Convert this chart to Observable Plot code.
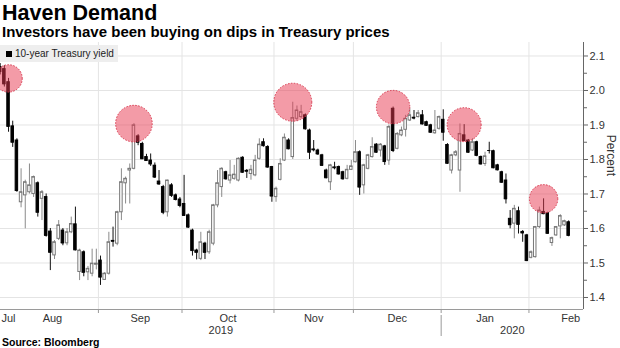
<!DOCTYPE html>
<html><head><meta charset="utf-8">
<script src="https://cdn.jsdelivr.net/npm/d3@7"></script>
<script src="https://cdn.jsdelivr.net/npm/@observablehq/plot@0.6"></script>
<style>
body{margin:0;background:#fff;font-family:"Liberation Sans",Arial,sans-serif;}
#wrap{position:relative;width:620px;height:348px;overflow:hidden;background:#fff;}
#title{position:absolute;left:2px;top:2px;font-weight:bold;font-size:21.5px;line-height:22px;height:22px;color:#000;white-space:nowrap;}
#subtitle{position:absolute;left:2px;top:24px;font-weight:bold;font-size:15px;line-height:16px;height:16px;color:#000;white-space:nowrap;}
#chart{position:absolute;left:0;top:40px;}
#legend{position:absolute;left:0;top:45px;width:118px;height:17px;background:#eeeeee;}
#legend .sw{position:absolute;left:6px;top:6px;width:6px;height:6px;background:#000;}
#legend .lb{position:absolute;left:15px;top:0;font-size:10px;line-height:17px;color:#222;white-space:nowrap;}
#source{position:absolute;left:2px;top:336px;font-weight:bold;font-size:10.5px;line-height:12px;color:#000;white-space:nowrap;}
</style></head>
<body><div id="wrap">
<div id="title">Haven Demand</div>
<div id="subtitle">Investors have been buying on dips in Treasury prices</div>
<div id="chart"></div>
<div id="legend"><span class="sw"></span><span class="lb" id="legendText"></span></div>
<div id="source">Source: Bloomberg</div>
</div>
<script>
// ---- Data ----
const dates = [
"2019-07-30","2019-07-31",
"2019-08-01","2019-08-02","2019-08-05","2019-08-06","2019-08-07","2019-08-08","2019-08-09","2019-08-12","2019-08-13","2019-08-14","2019-08-15","2019-08-16","2019-08-19","2019-08-20","2019-08-21","2019-08-22","2019-08-23","2019-08-26","2019-08-27","2019-08-28","2019-08-29","2019-08-30",
"2019-09-03","2019-09-04","2019-09-05","2019-09-06","2019-09-09","2019-09-10","2019-09-11","2019-09-12","2019-09-13","2019-09-16","2019-09-17","2019-09-18","2019-09-19","2019-09-20","2019-09-23","2019-09-24","2019-09-25","2019-09-26","2019-09-27","2019-09-30",
"2019-10-01","2019-10-02","2019-10-03","2019-10-04","2019-10-07","2019-10-08","2019-10-09","2019-10-10","2019-10-11","2019-10-15","2019-10-16","2019-10-17","2019-10-18","2019-10-21","2019-10-22","2019-10-23","2019-10-24","2019-10-25","2019-10-28","2019-10-29","2019-10-30","2019-10-31",
"2019-11-01","2019-11-04","2019-11-05","2019-11-06","2019-11-07","2019-11-08","2019-11-12","2019-11-13","2019-11-14","2019-11-15","2019-11-18","2019-11-19","2019-11-20","2019-11-21","2019-11-22","2019-11-25","2019-11-26","2019-11-27","2019-11-29",
"2019-12-02","2019-12-03","2019-12-04","2019-12-05","2019-12-06","2019-12-09","2019-12-10","2019-12-11","2019-12-12","2019-12-13","2019-12-16","2019-12-17","2019-12-18","2019-12-19","2019-12-20","2019-12-23","2019-12-24","2019-12-26","2019-12-27","2019-12-30","2019-12-31",
"2020-01-02","2020-01-03","2020-01-06","2020-01-07","2020-01-08","2020-01-09","2020-01-10","2020-01-13","2020-01-14","2020-01-15","2020-01-16","2020-01-17","2020-01-21","2020-01-22","2020-01-23","2020-01-24","2020-01-27","2020-01-28","2020-01-29","2020-01-30","2020-01-31",
"2020-02-03","2020-02-04","2020-02-05","2020-02-06","2020-02-07","2020-02-10","2020-02-11","2020-02-12","2020-02-13","2020-02-14"
];
const open = [
2.068,2.062,
2.024,1.896,1.855,1.676,1.696,1.705,1.700,1.731,1.686,1.691,1.591,1.522,1.570,1.594,1.557,1.589,1.612,1.474,1.531,1.473,1.469,1.495,
1.507,1.451,1.469,1.564,1.556,1.647,1.731,1.768,1.773,1.867,1.845,1.807,1.797,1.782,1.736,1.720,1.647,1.725,1.696,1.684,
1.671,1.638,1.594,1.536,1.512,1.556,1.531,1.556,1.667,1.720,1.763,1.739,1.744,1.739,1.805,1.767,1.758,1.754,1.802,1.850,1.836,1.778,
1.691,1.741,1.797,1.855,1.807,1.918,1.923,1.928,1.884,1.829,1.826,1.812,1.768,1.734,1.777,1.778,1.763,1.744,1.770,
1.792,1.821,1.725,1.773,1.807,1.843,1.826,1.838,1.797,1.947,1.831,1.870,1.886,1.913,1.921,1.923,1.928,1.908,1.899,1.876,1.889,
1.915,1.842,1.768,1.812,1.768,1.870,1.855,1.826,1.850,1.807,1.787,1.826,1.824,1.783,1.763,1.739,1.628,1.614,1.650,1.590,1.580,
1.515,1.517,1.604,1.648,1.644,1.558,1.580,1.606,1.609,1.618
];
const high = [
2.078,2.072,
2.035,1.911,1.860,1.773,1.740,1.787,1.752,1.735,1.710,1.700,1.600,1.565,1.623,1.600,1.600,1.633,1.662,1.540,1.535,1.490,1.540,1.540,
1.520,1.472,1.589,1.604,1.650,1.773,1.749,1.787,1.904,1.872,1.850,1.815,1.816,1.790,1.768,1.725,1.740,1.730,1.700,1.690,
1.754,1.642,1.598,1.540,1.589,1.560,1.595,1.670,1.768,1.776,1.766,1.797,1.783,1.805,1.808,1.771,1.783,1.812,1.860,1.860,1.840,1.780,
1.720,1.802,1.874,1.860,1.966,1.955,1.957,1.932,1.888,1.855,1.830,1.815,1.772,1.786,1.792,1.781,1.766,1.783,1.797,
1.855,1.825,1.786,1.815,1.863,1.846,1.846,1.841,1.900,1.952,1.878,1.894,1.928,1.947,1.942,1.942,1.942,1.911,1.902,1.942,1.926,
1.944,1.846,1.815,1.826,1.903,1.901,1.858,1.860,1.853,1.810,1.821,1.850,1.827,1.786,1.766,1.758,1.652,1.667,1.662,1.594,1.583,
1.535,1.606,1.662,1.686,1.647,1.575,1.606,1.640,1.624,1.622
];
const low = [
2.045,2.010,
1.879,1.835,1.705,1.660,1.599,1.700,1.690,1.633,1.623,1.575,1.478,1.510,1.565,1.550,1.550,1.585,1.535,1.449,1.460,1.449,1.460,1.480,
1.435,1.450,1.465,1.546,1.550,1.623,1.671,1.671,1.770,1.840,1.800,1.795,1.780,1.745,1.725,1.640,1.633,1.690,1.680,1.660,
1.635,1.600,1.520,1.509,1.507,1.510,1.525,1.550,1.660,1.690,1.740,1.729,1.740,1.735,1.760,1.745,1.740,1.750,1.798,1.836,1.775,1.676,
1.676,1.738,1.794,1.828,1.800,1.910,1.918,1.885,1.800,1.822,1.812,1.780,1.744,1.710,1.770,1.755,1.740,1.741,1.768,
1.790,1.696,1.700,1.770,1.804,1.818,1.807,1.783,1.783,1.820,1.828,1.866,1.865,1.910,1.915,1.920,1.900,1.896,1.876,1.873,1.885,
1.853,1.786,1.758,1.808,1.705,1.852,1.818,1.823,1.808,1.784,1.780,1.816,1.773,1.767,1.731,1.671,1.599,1.570,1.584,1.560,1.504,
1.512,1.514,1.600,1.640,1.583,1.548,1.577,1.570,1.606,1.576
];
const close = [
2.055,2.019,
1.896,1.850,1.710,1.705,1.734,1.725,1.749,1.647,1.705,1.580,1.531,1.560,1.609,1.558,1.589,1.613,1.538,1.536,1.473,1.483,1.498,1.498,
1.459,1.469,1.560,1.563,1.647,1.734,1.744,1.773,1.899,1.850,1.802,1.797,1.787,1.749,1.729,1.647,1.739,1.696,1.684,1.667,
1.638,1.604,1.536,1.531,1.560,1.531,1.589,1.667,1.731,1.773,1.744,1.754,1.756,1.802,1.763,1.766,1.770,1.797,1.843,1.840,1.778,1.694,
1.715,1.787,1.863,1.831,1.920,1.942,1.937,1.889,1.821,1.828,1.816,1.783,1.747,1.783,1.776,1.758,1.744,1.770,1.780,
1.821,1.720,1.783,1.812,1.836,1.821,1.843,1.794,1.894,1.826,1.874,1.884,1.918,1.928,1.920,1.934,1.903,1.899,1.879,1.884,1.923,
1.879,1.789,1.812,1.821,1.874,1.855,1.821,1.850,1.812,1.787,1.809,1.826,1.776,1.770,1.734,1.686,1.611,1.657,1.612,1.587,1.507,
1.531,1.604,1.652,1.643,1.586,1.572,1.604,1.636,1.621,1.580
];
const highlightDates = ["2019-08-01","2019-09-13","2019-11-07","2019-12-13","2020-01-09","2020-02-06"];
const yTicks = [1.4, 1.5, 1.6, 1.7, 1.8, 1.9, 2.0, 2.1];
const yMinorTicks = [1.45, 1.55, 1.65, 1.75, 1.85, 1.95, 2.05];
const monthLabels = ["Jul", "Aug", "Sep", "Oct", "Nov", "Dec", "Jan", "Feb"];
const yearLabels = ["2019", "2020"];
const seriesName = "10-year Treasury yield";
const yLabel = "Percent";

document.getElementById("legendText").textContent = seriesName;

// ---- Derived structures ----
const candles = dates.map((d, i) => ({date: d, i, open: open[i], high: high[i], low: low[i], close: close[i], up: close[i] > open[i]}));
const upC = candles.filter(c => c.up);
const downC = candles.filter(c => !c.up);
const highlights = highlightDates.map(d => candles.find(c => c.date === d));
const highlightR = [13.7, 18.3, 19, 16.7, 17, 14.2];

const xDomain = [0.077, 139.55];
const yDomain = [1.3652, 2.1391];

const monthKeys = Array.from(new Set(dates.map(d => d.slice(0, 7))));
const monthInfo = monthKeys.map((key, k) => {
  const idx = candles.filter(c => c.date.startsWith(key)).map(c => c.i);
  const first = d3.min(idx), last = d3.max(idx);
  const [yy, mm] = key.split("-").map(Number);
  const weekdays = d3.utcDays(new Date(Date.UTC(yy, mm - 1, 1)), new Date(Date.UTC(yy, mm, 1)))
    .filter(d => d.getUTCDay() % 6 !== 0).length;
  let center;
  if (k === 0) center = last - (weekdays - 1) / 2;
  else if (k === monthKeys.length - 1) center = first + (weekdays - 1) / 2;
  else center = (first + last) / 2;
  return {key, first, last, center, label: monthLabels[k], year: yy};
});
const boundaries = monthInfo.slice(1).map(m => m.first - 0.5).filter(b => b - xDomain[0] > 3);
const labelsMid = monthInfo.filter(m => m.center > xDomain[0] + 2);
const labelsStart = monthInfo.filter(m => m.center <= xDomain[0] + 2).map(m => ({...m, center: xDomain[0]}));

const yearBreaks = monthInfo.filter((m, k) => k > 0 && m.year !== monthInfo[k - 1].year).map(m => m.first - 0.5);
const yearEdges = [xDomain[0], ...yearBreaks, xDomain[1]];
const yearData = yearLabels.map((label, k) => ({label, center: (yearEdges[k] + yearEdges[k + 1]) / 2}));

const grid = "#e4e4e4";

const chart = Plot.plot({
  width: 620, height: 298,
  marginLeft: 0, marginRight: 37, marginTop: 2, marginBottom: 29,
  x: {domain: xDomain, axis: null},
  y: {domain: yDomain, axis: null},
  r: {type: "identity"},
  style: {fontFamily: "'Liberation Sans', Arial, sans-serif", fontSize: "11px", color: "#333", background: "transparent"},
  marks: [
    Plot.gridY(yTicks, {stroke: grid, strokeOpacity: 1}),
    Plot.gridX(boundaries, {stroke: grid, strokeOpacity: 1}),
    // wicks
    Plot.ruleX(upC, {x: "i", y1: "low", y2: "high", stroke: "#8a8a8a", strokeWidth: 1}),
    Plot.ruleX(downC, {x: "i", y1: "low", y2: "high", stroke: "#111", strokeWidth: 1}),
    // bodies
    Plot.rect(upC, {x1: d => d.i - 0.3, x2: d => d.i + 0.3, y1: "open", y2: "close", fill: "#fff", stroke: "#777", strokeWidth: 1}),
    Plot.rect(downC, {x1: d => d.i - 0.3, x2: d => d.i + 0.3, y1: "open", y2: "close", fill: "#000", stroke: "#000", strokeWidth: 1}),
    Plot.ruleY(upC, {y: "close", x1: d => d.i - 0.38, x2: d => d.i + 0.38, stroke: "#777"}),
    Plot.ruleY(downC, {y: "close", x1: d => d.i - 0.38, x2: d => d.i + 0.38, stroke: "#000"}),
    // highlight circles
    Plot.dot(highlights, {x: "i", y: "high", r: (d, k) => highlightR[k], fill: "#e8384f", fillOpacity: 0.5, stroke: "#d8384e", strokeWidth: 1, strokeDasharray: "1.5,1.5"}),
    // axes
    Plot.ruleY([yDomain[0]], {stroke: "#9a9a9a"}),
    Plot.ruleX([xDomain[1]], {stroke: "#666"}),
    Plot.axisY(yTicks, {anchor: "right", tickSize: 4, tickPadding: 2, tickFormat: d3.format(".1f"), label: null, fontSize: 11, stroke: "#666"}),
    Plot.axisY(yMinorTicks, {anchor: "right", tickSize: 3, tickFormat: () => "", label: null, stroke: "#666"}),
    Plot.axisX(boundaries, {anchor: "bottom", tickSize: 4, tickFormat: () => "", label: null, stroke: "#999"}),
    Plot.text(labelsMid, {x: "center", text: "label", frameAnchor: "bottom", dy: 12, fill: "#333", fontSize: 11}),
    Plot.text(labelsStart, {x: "center", text: "label", frameAnchor: "bottom", dy: 12, dx: 1, textAnchor: "start", fill: "#333", fontSize: 11}),
    Plot.text(yearData, {x: "center", text: "label", frameAnchor: "bottom", dy: 24, fill: "#333", fontSize: 11}),
    Plot.ruleX(yearBreaks, {insetTop: 273, insetBottom: -27, stroke: "#999"}),
    Plot.text([yLabel], {frameAnchor: "right", dx: 27, rotate: 90, fill: "#333", fontSize: 12})
  ]
});
document.getElementById("chart").appendChild(chart);
</script>
</body></html>
